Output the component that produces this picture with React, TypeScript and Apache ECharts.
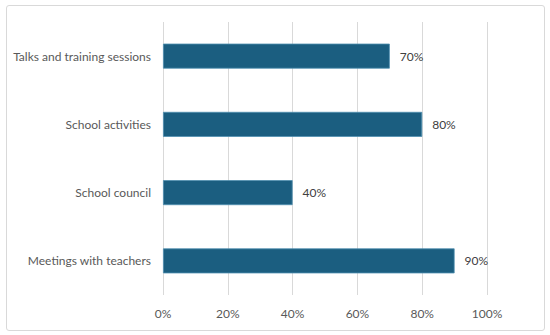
import React, { useEffect, useRef } from "react";
import * as echarts from "echarts";

const categories = ["Meetings with teachers", "School council", "School activities", "Talks and training sessions"];
const values = [90, 40, 80, 70];
const xTicks = [0, 20, 40, 60, 80, 100];

export default function App() {
  const ref = useRef<HTMLDivElement>(null);
  useEffect(() => {
    const chart = echarts.init(ref.current!, null, { renderer: "svg" });
    chart.setOption({
      animation: false,
      backgroundColor: "#ffffff",
      textStyle: { fontFamily: "Lato" },
      grid: { left: 163, right: 63, top: 22, bottom: 40 },
      xAxis: {
        type: "value",
        min: xTicks[0],
        max: xTicks[xTicks.length - 1],
        interval: 20,
        axisLine: { show: false },
        axisTick: { show: false },
        splitLine: { show: true, lineStyle: { color: "#d9d9d9", width: 1 } },
        axisLabel: { formatter: "{value}%", color: "#595959", fontSize: 12, margin: 12 },
      },
      yAxis: {
        type: "category",
        data: categories,
        axisLine: { show: false },
        axisTick: { show: false },
        axisLabel: { color: "#595959", fontSize: 12, margin: 12 },
      },
      series: [
        {
          type: "bar",
          data: values,
          barWidth: 25,
          itemStyle: { color: "#1b5e80", borderColor: "#4f8fb0", borderWidth: 0.8 },
          label: {
            show: true,
            position: "right",
            formatter: "{c}%",
            color: "#404040",
            fontSize: 12,
            distance: 10,
          },
        },
      ],
    });
    return () => chart.dispose();
  }, []);
  return (
    <div style={{ position: "absolute", left: 0, top: 0, width: 550, height: 335, background: "#fff" }}>
      <div ref={ref} style={{ position: "absolute", left: 0, top: 0, width: 550, height: 335 }} />
      <div
        style={{
          position: "absolute",
          left: 6,
          top: 5,
          width: 537,
          height: 324,
          border: "1px solid #d9d9d9",
          borderRadius: 3,
          pointerEvents: "none",
        }}
      />
    </div>
  );
}
